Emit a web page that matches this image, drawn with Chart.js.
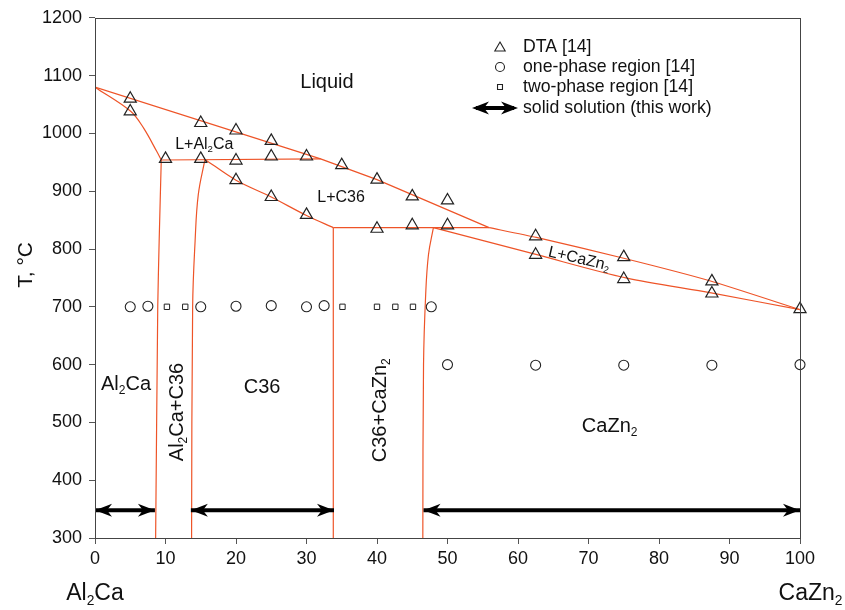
<!DOCTYPE html>
<html>
<head>
  <meta charset="utf-8">
  <title>Al2Ca - CaZn2</title>
  <script src="https://cdn.jsdelivr.net/npm/chart.js@4.4.1/dist/chart.umd.min.js"></script>
  <style>
    body { margin: 0; background: #fff; }
  </style>
</head>
<body>
  <canvas id="myChart" width="845" height="610"></canvas>

  <script>
    const FONT = "'Liberation Sans', Arial, Helvetica, sans-serif";
    const RED = '#ee5428';

    // tick values
    const xTickValues = [0, 10, 20, 30, 40, 50, 60, 70, 80, 90, 100];
    const yTickValues = [300, 400, 500, 600, 700, 800, 900, 1000, 1100, 1200];

    // DTA [14]
    const dtaX = [5, 5, 10, 15, 15, 20, 20, 20, 25, 25, 25, 30, 30, 35, 40, 40, 45, 45, 50, 50, 62.5, 62.5, 75, 75, 87.5, 87.5, 100];
    const dtaY = [1060, 1038, 956, 1018, 956, 1005, 953, 919, 987, 960, 890, 960, 859, 945, 920, 835, 891, 841, 884, 841, 822, 790, 786, 748, 744, 723, 696];

    // one-phase region [14]
    const oneX = [5, 7.5, 15, 20, 25, 30, 32.5, 47.7, 50, 62.5, 75, 87.5, 100];
    const oneY = [700, 701, 700, 701, 702, 700, 702, 700, 600, 599, 599, 599, 600];

    // two-phase region [14]
    const twoX = [10.2, 12.8, 35.1, 40, 42.6, 45.1];
    const twoY = [700, 700, 700, 700, 700, 700];

    // solid solution ranges (this work)
    const ssStart = [0, 13.6, 46.6];
    const ssEnd = [8.5, 33.9, 100];
    const ssT = 348;

    // phase boundaries
    const liqX = [0, 32, 40, 55.9];
    const liqY = [1080, 956, 920, 837];
    const liq2X = [55.9, 62.6, 75, 87.2, 100];
    const liq2Y = [837, 820, 784, 745, 695];
    const al2caLiqX = [0, 5.1, 6.9, 8.75, 9.4];
    const al2caLiqY = [1080, 1038, 1009, 969, 954];
    const periX = [9.4, 32];
    const periY = [954, 956];
    const al2caSolvX = [9.4, 9.1, 8.9, 8.6];
    const al2caSolvY = [954, 814, 700, 300];
    const c36LeftX = [15.6, 14.65, 14.2, 13.85, 13.7];
    const c36LeftY = [955, 894, 814, 700, 300];
    const c36SolX = [15.6, 20, 25, 30, 33.8];
    const c36SolY = [955, 919, 890, 858, 837];
    const eutX = [33.8, 55.9];
    const eutY = [837, 837];
    const c36RightX = [33.8, 33.8];
    const c36RightY = [837, 300];
    const cazn2SolX = [48, 62.4, 75.3, 87.4, 100];
    const cazn2SolY = [837, 791, 750, 724, 695];
    const cazn2LeftX = [48, 47.3, 46.9, 46.6, 46.5];
    const cazn2LeftY = [837, 790, 720, 600, 300];

    const pts = (xs, ys) => xs.map((x, i) => ({ x: x, y: ys[i] }));

    function boundary(xs, ys, tension) {
      return {
        data: pts(xs, ys),
        showLine: true,
        borderColor: RED,
        borderWidth: 1.2,
        pointRadius: 0,
        tension: tension || 0,
        order: 2
      };
    }

    const datasets = [
      boundary(liqX, liqY),
      boundary(liq2X, liq2Y, 0.2),
      boundary(al2caLiqX, al2caLiqY, 0.35),
      boundary(periX, periY),
      boundary(al2caSolvX, al2caSolvY, 0.2),
      boundary(c36LeftX, c36LeftY, 0.4),
      boundary(c36SolX, c36SolY, 0.3),
      boundary(eutX, eutY),
      boundary(c36RightX, c36RightY),
      boundary(cazn2SolX, cazn2SolY, 0.3),
      boundary(cazn2LeftX, cazn2LeftY, 0.4)
    ];

    ssStart.forEach((s, i) => {
      datasets.push({
        data: [{ x: s, y: ssT }, { x: ssEnd[i], y: ssT }],
        showLine: true,
        borderColor: '#000',
        borderWidth: 4,
        pointRadius: 0,
        arrow: true,
        clip: false,
        order: 1
      });
    });

    datasets.push({
      data: pts(dtaX, dtaY),
      pointStyle: 'triangle',
      pointRadius: 7,
      borderColor: '#222',
      borderWidth: 1.2,
      backgroundColor: 'rgba(255,255,255,0)',
      clip: false,
      order: 0
    });
    datasets.push({
      data: pts(oneX, oneY),
      pointStyle: 'circle',
      pointRadius: 5,
      borderColor: '#222',
      borderWidth: 1.1,
      backgroundColor: 'rgba(255,255,255,0)',
      clip: false,
      order: 0
    });
    datasets.push({
      data: pts(twoX, twoY),
      pointStyle: 'rect',
      pointRadius: 3.8,
      borderColor: '#222',
      borderWidth: 1,
      backgroundColor: 'rgba(255,255,255,0)',
      clip: false,
      order: 0
    });

    // text inside the diagram
    const regionLabels = [
      { parts: [['Liquid']], x: 32.9, y: 1091, size: 20 },
      { parts: [['L+Al'], ['2', 1], ['Ca']], x: 15.5, y: 983, size: 16 },
      { parts: [['L+C36']], x: 34.9, y: 892, size: 16 },
      { parts: [['L+CaZn'], ['2', 1]], x: 68.7, y: 785, size: 16, rot: 13 },
      { parts: [['Al'], ['2', 1], ['Ca']], x: 4.4, y: 569, size: 20 },
      { parts: [['Al'], ['2', 1], ['Ca+C36']], x: 11.5, y: 518, size: 20, rot: -90 },
      { parts: [['C36']], x: 23.7, y: 564, size: 20 },
      { parts: [['C36+CaZn'], ['2', 1]], x: 40.3, y: 521, size: 20, rot: -90 },
      { parts: [['CaZn'], ['2', 1]], x: 73, y: 495, size: 20 }
    ];

    function richText(ctx, parts, x, y, size) {
      const sub = size * 0.6;
      let w = 0;
      parts.forEach(p => {
        ctx.font = (p[1] ? sub : size) + 'px ' + FONT;
        w += ctx.measureText(p[0]).width;
      });
      let cx = x - w / 2;
      const base = y + size * 0.36;
      ctx.textAlign = 'left';
      ctx.textBaseline = 'alphabetic';
      parts.forEach(p => {
        ctx.font = (p[1] ? sub : size) + 'px ' + FONT;
        ctx.fillText(p[0], cx, p[1] ? base + size * 0.2 : base);
        cx += ctx.measureText(p[0]).width;
      });
    }

    function arrowHead(ctx, tx, ty, dir) {
      ctx.beginPath();
      ctx.moveTo(tx, ty);
      ctx.quadraticCurveTo(tx - dir * 8, ty - 3, tx - dir * 17, ty - 6.5);
      ctx.lineTo(tx - dir * 12, ty);
      ctx.lineTo(tx - dir * 17, ty + 6.5);
      ctx.quadraticCurveTo(tx - dir * 8, ty + 3, tx, ty);
      ctx.closePath();
      ctx.fill();
    }

    const decor = {
      id: 'decor',
      afterDatasetsDraw(chart) {
        const ctx = chart.ctx;
        const xs = chart.scales.x, ys = chart.scales.y;
        const area = chart.chartArea;
        ctx.save();
        ctx.fillStyle = '#000';
        chart.data.datasets.forEach((ds, i) => {
          if (!ds.arrow) return;
          const pts = chart.getDatasetMeta(i).data;
          arrowHead(ctx, pts[0].x, pts[0].y, -1);
          arrowHead(ctx, pts[1].x, pts[1].y, 1);
        });

        // frame
        ctx.strokeStyle = '#444';
        ctx.lineWidth = 1;
        ctx.strokeRect(Math.round(area.left) + 0.5, Math.round(area.top) + 0.5,
          Math.round(area.right - area.left), Math.round(area.bottom - area.top));

        ctx.fillStyle = '#111';
        regionLabels.forEach(l => {
          const px = xs.getPixelForValue(l.x), py = ys.getPixelForValue(l.y);
          ctx.save();
          ctx.translate(px, py);
          if (l.rot) ctx.rotate(l.rot * Math.PI / 180);
          richText(ctx, l.parts, 0, 0, l.size);
          ctx.restore();
        });

        // component names under the axis
        richText(ctx, [['Al'], ['2', 1], ['Ca']], xs.getPixelForValue(0), area.bottom + 54, 23);
        richText(ctx, [['CaZn'], ['2', 1]], xs.getPixelForValue(101.5), area.bottom + 54, 23);

        // axis title
        ctx.save();
        ctx.translate(24, (area.top + area.bottom) / 2 - 13);
        ctx.rotate(-Math.PI / 2);
        richText(ctx, [['T, °C']], 0, 0, 21);
        ctx.restore();

        // legend
        const lx = 500, tx = 523;
        const rows = [47, 67, 87, 108];
        const hp = Chart.helpers.drawPoint;
        ctx.strokeStyle = '#222';
        ctx.fillStyle = 'rgba(255,255,255,0)';
        ctx.lineWidth = 1.1;
        hp(ctx, { pointStyle: 'triangle', radius: 6, rotation: 0, borderWidth: 1.1 }, lx, rows[0] + 1);
        hp(ctx, { pointStyle: 'circle', radius: 4.5, rotation: 0, borderWidth: 1.1 }, lx, rows[1]);
        hp(ctx, { pointStyle: 'rect', radius: 3.5, rotation: 0, borderWidth: 1 }, lx, rows[2]);
        ctx.fillStyle = '#000';
        ctx.fillRect(476, rows[3] - 2, 38, 4);
        arrowHead(ctx, 472, rows[3], -1);
        arrowHead(ctx, 518, rows[3], 1);
        ctx.fillStyle = '#111';
        ctx.font = '17.7px ' + FONT;
        ctx.textAlign = 'left';
        ctx.textBaseline = 'middle';
        ['DTA [14]', 'one-phase region [14]', 'two-phase region [14]', 'solid solution (this work)']
          .forEach((t, i) => ctx.fillText(t, tx, rows[i]));
        ctx.restore();
      }
    };

    const ctx = document.getElementById('myChart').getContext('2d');
    const myChart = new Chart(ctx, {
      type: 'scatter',
      data: { datasets: datasets },
      options: {
        responsive: false,
        animation: false,
        layout: { padding: { top: 16, right: 45, left: 0, bottom: 0 } },
        plugins: {
          legend: { display: false },
          tooltip: { enabled: false }
        },
        scales: {
          x: {
            type: 'linear',
            min: 0,
            max: 100,
            afterBuildTicks: s => { s.ticks = xTickValues.map(v => ({ value: v })); },
            afterFit: s => { s.height = 72; },
            border: { display: false },
            grid: { drawOnChartArea: false, drawTicks: true, tickLength: 6, color: '#555' },
            ticks: { color: '#111', padding: 4, maxRotation: 0, callback: v => String(v), font: { family: FONT, size: 18 } }
          },
          y: {
            type: 'linear',
            min: 300,
            max: 1200,
            afterBuildTicks: s => { s.ticks = yTickValues.map(v => ({ value: v })); },
            afterFit: s => { s.width = 95; },
            border: { display: false },
            grid: { drawOnChartArea: false, drawTicks: true, tickLength: 6, color: '#555' },
            ticks: { color: '#111', padding: 7, callback: v => String(v), font: { family: FONT, size: 18 } }
          }
        }
      },
      plugins: [decor]
    });
  </script>
</body>
</html>
